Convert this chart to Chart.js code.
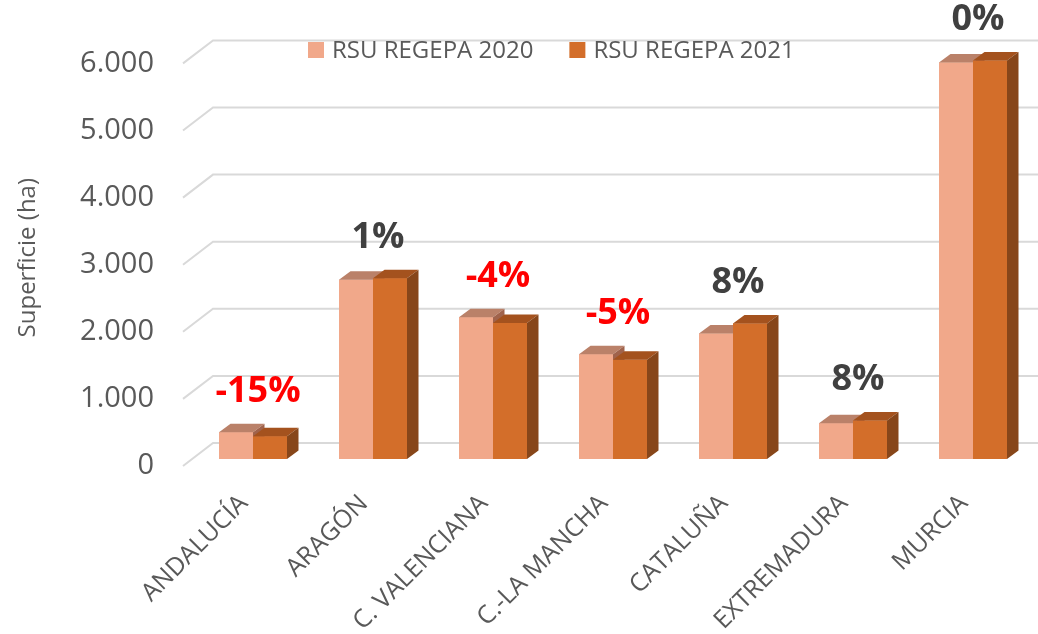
<!DOCTYPE html>
<html><head><meta charset="utf-8">
<script src="https://cdn.jsdelivr.net/npm/chart.js@4.4.1/dist/chart.umd.min.js"></script>
<style>html,body{margin:0;padding:0;background:#fff;overflow:hidden}</style>
</head><body>
<canvas id="c" width="1038" height="634"></canvas>
<script>
const categories = ['ANDALUCÍA','ARAGÓN','C. VALENCIANA','C.-LA MANCHA','CATALUÑA','EXTREMADURA','MURCIA'];
const seriesNames = ['RSU REGEPA 2020','RSU REGEPA 2021'];
const values2020 = [399, 2673, 2112, 1561, 1871, 532, 5908];
const values2021 = [340, 2693, 2028, 1480, 2019, 575, 5938];
const changeLabels = ['-15%','1%','-4%','-5%','8%','8%','0%'];
const yTickLabels = ['0','1.000','2.000','3.000','4.000','5.000','6.000'];
const yTitle = 'Superficie (ha)';

const frontColors = ['#F1A88A','#D36E2A'];
const topColors = ['#BA8169','#A4521E'];
const sideColors = ['#A0634C','#87461A'];
const DX = 11.5, DY = 8.5;
const FONT = '"Open Sans", "DejaVu Sans", sans-serif';

function face(ctx, color, pts) {
  ctx.fillStyle = color;
  ctx.beginPath();
  ctx.moveTo(pts[0][0], pts[0][1]);
  for (let i = 1; i < pts.length; i++) ctx.lineTo(pts[i][0], pts[i][1]);
  ctx.closePath();
  ctx.fill();
}
function drawBox(ctx, bar, i, withFront) {
  const {x, y, base, width} = bar.getProps(['x','y','base','width'], true);
  const x0 = x - width/2, x1 = x + width/2;
  if (withFront) face(ctx, frontColors[i], [[x0,y],[x1,y],[x1,base],[x0,base]]);
  face(ctx, topColors[i], [[x0,y],[x1,y],[x1+DX,y-DY],[x0+DX,y-DY]]);
  face(ctx, sideColors[i], [[x1,y],[x1,base],[x1+DX,base-DY],[x1+DX,y-DY]]);
}

const threeD = {
  id: 'threeD',
  beforeDatasetsDraw(chart) {
    const {ctx, chartArea, scales:{y}} = chart;
    ctx.save();
    ctx.strokeStyle = '#D9D9D9';
    ctx.lineWidth = 2;
    y.ticks.forEach(t => {
      const p = y.getPixelForValue(t.value);
      ctx.beginPath();
      ctx.moveTo(chartArea.left - 10, p + 7);
      ctx.lineTo(chartArea.left + 20, p - 16);
      ctx.lineTo(chart.width, p - 16);
      ctx.stroke();
    });
    ctx.restore();
  },
  afterDatasetsDraw(chart) {
    const ctx = chart.ctx;
    const m0 = chart.getDatasetMeta(0), m1 = chart.getDatasetMeta(1);
    ctx.save();
    categories.forEach((c, k) => {
      drawBox(ctx, m0.data[k], 0, true);
      drawBox(ctx, m1.data[k], 1, true);
    });
    ctx.restore();
  },
  afterDraw(chart) {
    const ctx = chart.ctx;
    const xs = chart.scales.x;
    const m0 = chart.getDatasetMeta(0), m1 = chart.getDatasetMeta(1);
    ctx.save();
    ctx.font = 'bold 36px ' + FONT;
    ctx.textAlign = 'center';
    ctx.textBaseline = 'alphabetic';
    categories.forEach((c, k) => {
      const top = Math.min(m0.data[k].y, m1.data[k].y) - DY;
      const lab = changeLabels[k];
      ctx.fillStyle = lab.startsWith('-') ? '#FF0000' : '#404040';
      ctx.fillText(lab, xs.getPixelForValue(k) + 5, top - 22);
    });
    ctx.font = '24px ' + FONT;
    ctx.textAlign = 'left';
    ctx.textBaseline = 'middle';
    let lx = 308; const ly = 50;
    seriesNames.forEach((n, i) => {
      ctx.fillStyle = frontColors[i];
      ctx.fillRect(lx, ly - 8, 16, 16);
      ctx.fillStyle = '#595959';
      ctx.fillText(n, lx + 24, ly + 1);
      lx += 24 + ctx.measureText(n).width + 36;
    });
    ctx.restore();
  }
};

function make() {
  Chart.defaults.font.family = FONT;
  new Chart(document.getElementById('c'), {
    type: 'bar',
    data: {
      labels: categories,
      datasets: [
        {label: seriesNames[0], data: values2020, backgroundColor: frontColors[0]},
        {label: seriesNames[1], data: values2021, backgroundColor: frontColors[1]}
      ]
    },
    options: {
      responsive: false, animation: false, devicePixelRatio: 1,
      layout: {padding: {top: 53, right: 5, left: 0, bottom: 0}},
      datasets: {bar: {categoryPercentage: 0.5667, barPercentage: 1, borderWidth: 0, inflateAmount: 0}},
      plugins: {legend: {display: false}, tooltip: {enabled: false}},
      scales: {
        x: {
          grid: {display: false, drawTicks: false}, border: {display: false},
          ticks: {maxRotation: 45, minRotation: 45, autoSkip: false, font: {size: 25}, color: '#595959', padding: 30, labelOffset: -9},
          afterFit(s) { s.height = 175; }
        },
        y: {
          min: 0, max: 6000,
          grid: {display: false, drawTicks: false}, border: {display: false},
          ticks: {stepSize: 1000, font: {size: 29}, color: '#595959', padding: 39, labelOffset: 7,
                  callback: (v, i) => yTickLabels[i]},
          title: {display: true, text: yTitle, font: {size: 24}, color: '#595959', padding: {top: 14, bottom: 0}},
          afterFit(s) { s.width = 193; }
        }
      }
    },
    plugins: [threeD]
  });
}
if (document.fonts && document.fonts.load) {
  Promise.all([
    document.fonts.load('22px "Open Sans"'),
    document.fonts.load('bold 35px "Open Sans"')
  ]).catch(() => {}).finally(make);
} else { make(); }
</script>
</body></html>
